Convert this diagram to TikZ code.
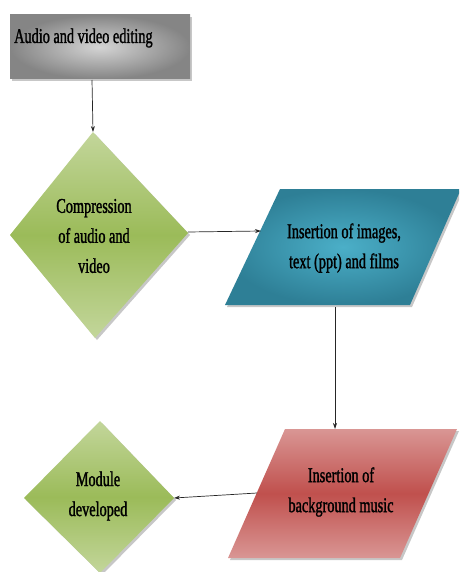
\documentclass[tikz,border=0pt]{standalone}
\usepackage{fontspec}
\setmainfont{Liberation Serif}[FakeStretch=0.68,FakeBold=1.3]
\usetikzlibrary{arrows.meta}
\definecolor{boxlight}{HTML}{D4D4D4}
\definecolor{boxdark}{HTML}{858585}
\definecolor{grnlight}{HTML}{C3D69B}
\definecolor{grnmid}{HTML}{9BBB59}
\definecolor{bluelight}{HTML}{4BAFC8}
\definecolor{bluedark}{HTML}{2E7F96}
\definecolor{redlight}{HTML}{D99694}
\definecolor{redmid}{HTML}{C0504D}
\tikzset{
  lbl/.style={font=\fontsize{21}{30}\selectfont, align=center, inner sep=0pt, text=black},
  conn/.style={draw=black!85, line width=0.7pt, -{Stealth[length=6pt,width=4pt]}},
  shad/.style={fill=black!40, opacity=0.55},
  grnshape/.style={top color=grnlight, bottom color=grnlight, middle color=grnmid},
  redshape/.style={top color=redlight, bottom color=redlight, middle color=redmid},
  blueshape/.style={inner color=bluelight, outer color=bluedark},
  boxshape/.style={inner color=boxlight, outer color=boxdark},
}
\begin{document}
\begin{tikzpicture}[x=1pt,y=-1pt]
\useasboundingbox (0,0) rectangle (459,572);
\clip (0,0) rectangle (459,572);
% top box
\fill[shad] (12,17) rectangle (192,81);
\path[boxshape] (10,15) rectangle (190,79);
\node[lbl, anchor=base west] (t0) at (14,43) {Audio and video editing};
\coordinate (boxS) at (92,80);
% diamond 1
\fill[shad] (95,134) -- (190,235) -- (97,340) -- (12,237) -- cycle;
\path[grnshape] (93,132) -- (188,233) -- (95,338) -- (10,235) -- cycle;
\coordinate (d1N) at (93,132);
\coordinate (d1E) at (188,232);
\node[lbl] (t1) at (94,236) {Compression\\of audio and\\video};
% blue parallelogram
\fill[shad] (282,191) -- (463,191) -- (412,307) -- (227,307) -- cycle;
\path[blueshape] (280,189) -- (461,189) -- (410,305) -- (225,305) -- cycle;
\coordinate (bW) at (261,231);
\coordinate (bS) at (335,307);
\node[lbl] (t2) at (344,248) {Insertion of images,\\text (ppt) and films};
% red parallelogram
\fill[shad] (287,431) -- (459,431) -- (402,560) -- (230,560) -- cycle;
\path[redshape] (285,429) -- (457,429) -- (400,558) -- (228,558) -- cycle;
\coordinate (rN) at (335,429);
\coordinate (rW) at (257,493);
\node[lbl] (t3) at (341,492) {Insertion of\\background music};
% diamond 2
\fill[shad] (102,423) -- (176,500) -- (102,575) -- (26,500) -- cycle;
\path[grnshape] (100,421) -- (174,498) -- (100,573) -- (24,498) -- cycle;
\coordinate (d2E) at (174,498);
\node[lbl] (t4) at (98,496) {Module\\developed};
% connectors
\draw[conn] (boxS) -- (d1N);
\draw[conn] (d1E) -- (bW);
\draw[conn] (bS) -- (rN);
\draw[conn] (rW) -- (d2E);
\end{tikzpicture}
\end{document}
